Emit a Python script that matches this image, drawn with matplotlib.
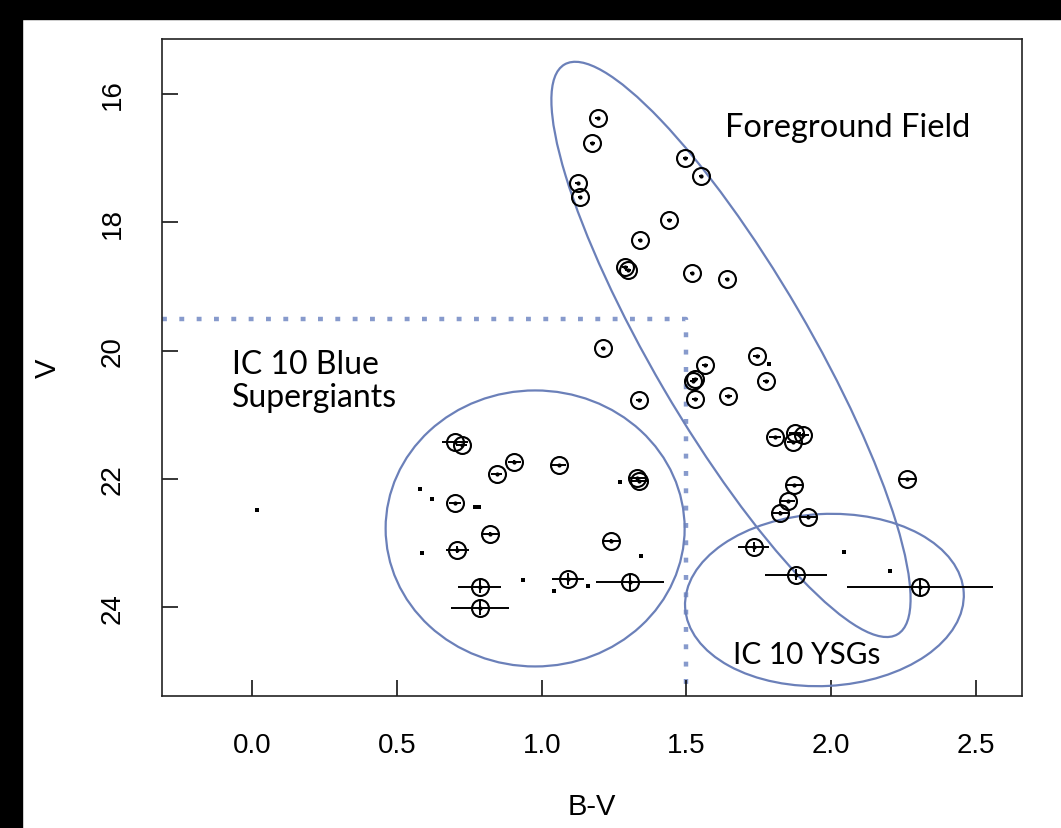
import numpy as np
import matplotlib
matplotlib.use("Agg")
import matplotlib.pyplot as plt
import matplotlib.transforms as mtransforms
from matplotlib.patches import Ellipse, Rectangle

# circled stars with error bars (B-V, V)
bv = [1.193, 1.175, 1.124, 1.132, 1.496, 1.551, 1.441, 1.339, 1.288, 1.298,
      1.519, 1.640, 1.211, 1.337, 1.530, 1.524, 1.564, 1.530, 1.743, 1.775,
      1.645, 1.806, 1.875, 1.904, 1.869, 2.263, 1.873, 1.850, 1.824, 1.919,
      1.733, 1.878, 2.307,
      0.700, 0.723, 0.905, 0.844, 1.059, 1.328, 1.337, 0.700, 0.821, 1.239,
      0.708, 0.786, 1.090, 1.305, 0.786]
v = [16.38, 16.76, 17.38, 17.61, 16.99, 17.28, 17.96, 18.28, 18.70, 18.74,
     18.79, 18.88, 19.96, 20.77, 20.44, 20.47, 20.23, 20.75, 20.09, 20.48,
     20.70, 21.35, 21.28, 21.31, 21.43, 22.00, 22.09, 22.34, 22.53, 22.59,
     23.06, 23.49, 23.69,
     21.42, 21.47, 21.73, 21.92, 21.78, 21.99, 22.03, 22.38, 22.85, 22.97,
     23.10, 23.68, 23.56, 23.61, 24.01]
bv_err = [0.008, 0.008, 0.008, 0.008, 0.008, 0.008, 0.008, 0.008, 0.01, 0.01,
          0.008, 0.008, 0.008, 0.01, 0.01, 0.01, 0.01, 0.01, 0.012, 0.012,
          0.012, 0.02, 0.02, 0.02, 0.02, 0.026, 0.025, 0.025, 0.03, 0.03,
          0.054, 0.107, 0.252,
          0.045, 0.02, 0.023, 0.02, 0.025, 0.03, 0.03, 0.02, 0.03, 0.03,
          0.04, 0.074, 0.055, 0.117, 0.101]
v_err = [0.01, 0.01, 0.01, 0.01, 0.01, 0.01, 0.01, 0.01, 0.01, 0.01,
         0.01, 0.01, 0.01, 0.015, 0.015, 0.015, 0.015, 0.015, 0.015, 0.015,
         0.015, 0.02, 0.02, 0.02, 0.02, 0.02, 0.02, 0.02, 0.03, 0.03,
         0.08, 0.09, 0.117,
         0.02, 0.02, 0.02, 0.02, 0.02, 0.02, 0.02, 0.02, 0.03, 0.03,
         0.06, 0.10, 0.09, 0.13, 0.11]

# faint stars, plotted as plain dots
bv_dot = [1.785, 2.045, 2.204, 1.270, 0.579, 0.622, 0.769, 0.784, 0.585,
          1.342, 0.934, 1.042, 1.161, 0.0145]
v_dot = [20.20, 23.14, 23.44, 22.04, 22.16, 22.31, 22.44, 22.44, 23.15,
         23.20, 23.58, 23.74, 23.67, 22.48]

x_ticks = [0.0, 0.5, 1.0, 1.5, 2.0, 2.5]
y_ticks = [16, 18, 20, 22, 24]

# selection cuts: B-V > 1.5 or V < 19.5
bv_cut = 1.5
v_cut = 19.5

# regions: label, centre (B-V, V), size in inches, angle
regions = [
    ("fg", 1.654, 19.98, 6.60, 1.56, -59.7),
    ("bsg", 0.977, 22.77, 2.99, 2.76, 0.0),
    ("ysg", 1.977, 23.885, 2.79, 1.72, 3.0),
]

blue = "#6B80B9"
dotblue = "#7289C4"
tick_font = "Liberation Sans"
note_font = ["Lato", "DejaVu Sans"]

fig = plt.figure(figsize=(10.61, 8.29), dpi=100, facecolor="white")
ax = fig.add_axes([0.15269, 0.15923, 0.81056, 0.79312])

# black strips along the left and top edge of the original screenshot
fig.patches.append(Rectangle((0, 0), 22 / 1061, 1, transform=fig.transFigure,
                             color="black", zorder=0))
fig.patches.append(Rectangle((0, 1 - 20 / 829), 1, 20 / 829, transform=fig.transFigure,
                             color="black", zorder=0))

ax.set_xlim(-0.3128, 2.660)
ax.set_ylim(25.381, 15.135)

for name, cx, cy, w, h, ang in regions:
    tr = fig.dpi_scale_trans + mtransforms.ScaledTranslation(cx, cy, ax.transData)
    ax.add_patch(Ellipse((0, 0), w, h, angle=ang, transform=tr, fill=False,
                         ec=blue, lw=1.6, zorder=2))

x0 = ax.get_xlim()[0]
y1 = ax.get_ylim()[0]
ax.plot([x0, bv_cut, bv_cut], [v_cut, v_cut, y1], color=dotblue, lw=3.2,
        ls=(0, (1.1, 2.8)), alpha=0.85, zorder=1, clip_on=False)

ax.errorbar(bv, v, xerr=bv_err, yerr=v_err, fmt="o", mfc="none", mec="black",
            ms=12.2, mew=1.5, ecolor="black", elinewidth=1.4, capsize=0, zorder=4)
ax.plot(bv, v, "o", color="black", ms=2.0, zorder=5)
ax.plot(bv_dot, v_dot, "s", color="black", ms=2.3, mew=0, zorder=4)

ax.text(1.633, 16.654, "Foreground Field", family=note_font, fontsize=23.4,
        va="baseline", ha="left")
ax.text(-0.072, 20.348, "IC 10 Blue", family=note_font, fontsize=23,
        va="baseline", ha="left")
ax.text(-0.072, 20.867, "Supergiants", family=note_font, fontsize=23,
        va="baseline", ha="left")
ax.text(1.661, 24.86, "IC 10 YSGs", family=note_font, fontsize=21.4,
        va="baseline", ha="left")

ax.set_xticks(x_ticks)
ax.set_xticklabels([f"{t:.1f}" for t in x_ticks])
ax.set_yticks(y_ticks)
ax.set_yticklabels([str(t) for t in y_ticks])
ax.tick_params(direction="in", length=11.5, width=1.1, labelsize=20, pad=26)
for lab in ax.get_xticklabels() + ax.get_yticklabels():
    lab.set_family(tick_font)
for lab in ax.get_yticklabels():
    lab.set_rotation(90)
    lab.set_va("center")
    lab.set_ha("right")

for s in ax.spines.values():
    s.set_linewidth(1.2)
    s.set_color("#222222")

ax.set_xlabel("B-V", family=tick_font, fontsize=21, va="center")
ax.xaxis.set_label_coords(0.5, -0.167)
ax.set_ylabel("V", family=tick_font, fontsize=21, va="center", ha="center")
ax.yaxis.set_label_coords(-0.1326, 0.5)

fig.savefig("out.png", dpi=100, facecolor="white")
